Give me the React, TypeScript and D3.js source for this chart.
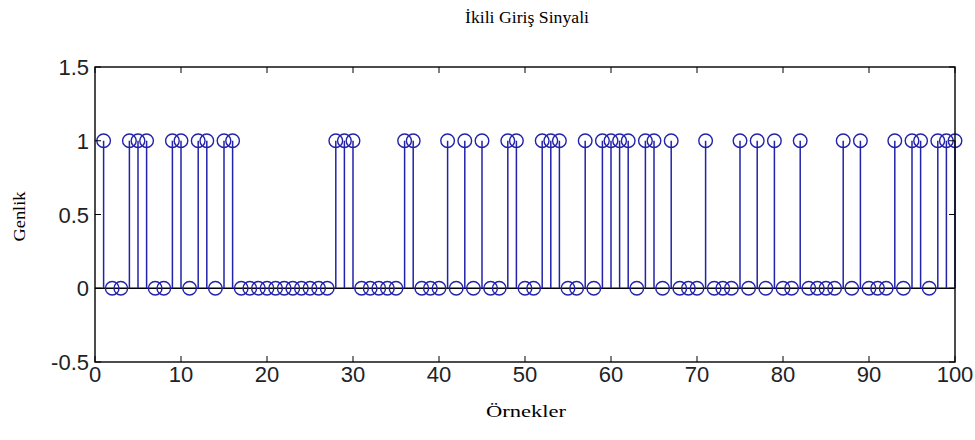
import React from "react";
import * as d3 from "d3";

// binary input samples n = 1..100
const samples = [
  1, 0, 0, 1, 1, 1, 0, 0, 1, 1,
  0, 1, 1, 0, 1, 1, 0, 0, 0, 0,
  0, 0, 0, 0, 0, 0, 0, 1, 1, 1,
  0, 0, 0, 0, 0, 1, 1, 0, 0, 0,
  1, 0, 1, 0, 1, 0, 0, 1, 1, 0,
  0, 1, 1, 1, 0, 0, 1, 0, 1, 1,
  1, 1, 0, 1, 1, 0, 1, 0, 0, 0,
  1, 0, 0, 0, 1, 0, 1, 0, 1, 0,
  0, 1, 0, 0, 0, 0, 1, 0, 1, 0,
  0, 0, 1, 0, 1, 1, 0, 1, 1, 1,
];
const xTicks = [0, 10, 20, 30, 40, 50, 60, 70, 80, 90, 100];
const yTicks = [-0.5, 0, 0.5, 1, 1.5];
const title = "İkili Giriş Sinyali";
const xLabel = "Örnekler";
const yLabel = "Genlik";

const W = 975, H = 440;
const left = 95, right = 955, top = 67, bottom = 362;
const blue = "#2222aa";
const tickFont = "'Liberation Sans', Arial, sans-serif";
const serif = "'Liberation Serif', 'Times New Roman', serif";

export default function App() {
  const x = d3.scaleLinear().domain([0, 100]).range([left, right]);
  const y = d3.scaleLinear().domain([-0.5, 1.5]).range([bottom, top]);
  const tl = 6;

  return (
    <div style={{ position: "absolute", left: 0, top: 0, background: "#fff" }}>
      <svg width={W} height={H} style={{ display: "block" }}>
        <rect width={W} height={H} fill="#fff" />
        {/* baseline */}
        <line x1={x(0)} x2={x(100)} y1={y(0)} y2={y(0)} stroke="#000" strokeWidth={1.4} />
        {/* stems */}
        {samples.map((v, i) => (
          <g key={i}>
            <line x1={x(i + 1)} x2={x(i + 1)} y1={y(0)} y2={y(v)} stroke={blue} strokeWidth={1.5} />
            <circle cx={x(i + 1)} cy={y(v)} r={6.8} fill="none" stroke={blue} strokeWidth={1.4} />
          </g>
        ))}
        {/* box */}
        <rect x={left} y={top} width={right - left} height={bottom - top} fill="none" stroke="#000" strokeWidth={1.4} />
        {xTicks.map((t) => (
          <g key={"x" + t}>
            <line x1={x(t)} x2={x(t)} y1={bottom} y2={bottom - tl} stroke="#000" />
            <line x1={x(t)} x2={x(t)} y1={top} y2={top + tl} stroke="#000" />
            <text x={x(t)} y={bottom + 20} textAnchor="middle" fontFamily={tickFont} fontSize={22} fill="#222">{t}</text>
          </g>
        ))}
        {yTicks.map((t) => (
          <g key={"y" + t}>
            <line x1={left} x2={left + tl} y1={y(t)} y2={y(t)} stroke="#000" />
            <line x1={right} x2={right - tl} y1={y(t)} y2={y(t)} stroke="#000" />
            <text x={left - 6} y={y(t) + 8} textAnchor="end" fontFamily={tickFont} fontSize={22} fill="#222">{t}</text>
          </g>
        ))}
        <text x={527} y={23} textAnchor="middle" fontFamily={serif} fontSize={17}
          textLength={124} lengthAdjust="spacingAndGlyphs">{title}</text>
        <text x={526} y={417} textAnchor="middle" fontFamily={serif} fontSize={17}
          textLength={80} lengthAdjust="spacingAndGlyphs">{xLabel}</text>
        <text transform={`translate(25, ${(top + bottom) / 2 + 2}) rotate(-90)`} textAnchor="middle" fontFamily={serif} fontSize={17}
          textLength={50} lengthAdjust="spacingAndGlyphs">{yLabel}</text>
      </svg>
    </div>
  );
}
